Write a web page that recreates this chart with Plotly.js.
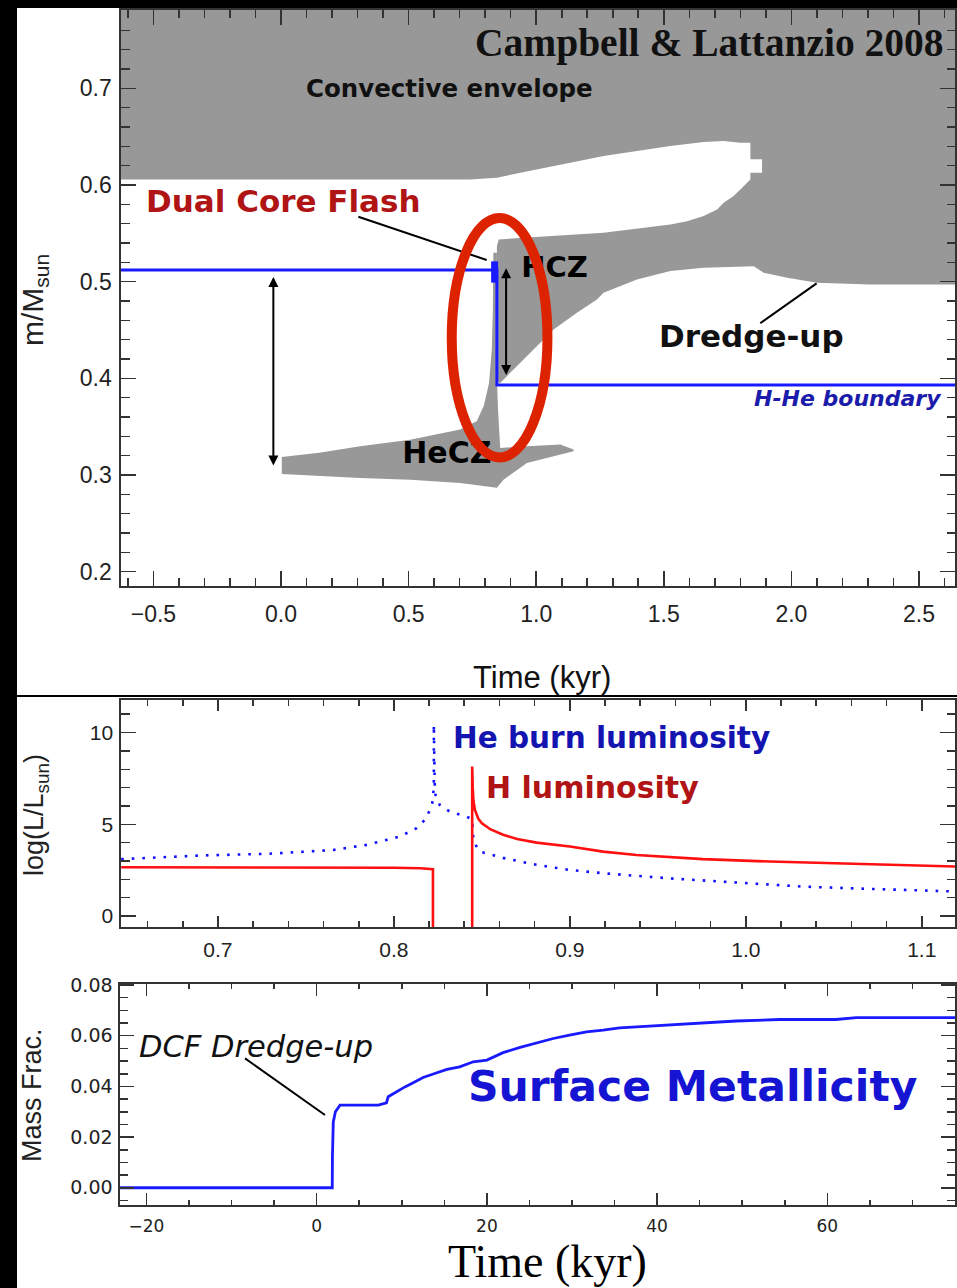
<!DOCTYPE html>
<html>
<head>
<meta charset="utf-8">
<script src="https://cdn.plot.ly/plotly-3.0.1.min.js"></script>
<style>
  html, body { margin: 0; padding: 0; background: #ffffff; }
  #fig { width: 957px; height: 1288px; }
</style>
</head>
<body>
<div id="fig"></div>
<script>
// ---------- Panel 1: convective zones during the dual core flash ----------
// Convective envelope merged with the hydrogen convective zone (HCZ);
// the radiative tongue between them is cut in as a notch.
const envTime = [-0.7, 2.7, 2.7, 2.3098, 2.1008, 1.9831, 1.8914, 1.8522, 1.6561, 1.5255, 1.3949,
  1.2639, 1.238, 1.1596, 1.068, 1.0027, 0.937, 0.8718, 0.8588, 0.8459, 0.8459, 0.853,
  1.0027, 1.2639, 1.5255, 1.591, 1.6561, 1.7086, 1.7345, 1.7737, 1.8, 1.8392, 1.8392,
  1.885, 1.885, 1.8392, 1.8392, 1.8, 1.7345, 1.6561, 1.5255, 1.3949, 1.2639, 1.1333,
  1.0027, 0.8459, 0.7412, -0.7];
const envMass = [0.80, 0.80, 0.4971, 0.4971, 0.4989, 0.504, 0.5092, 0.516, 0.5144, 0.5109, 0.5023,
  0.4885, 0.4816, 0.4678, 0.4505, 0.4332, 0.4161, 0.3988, 0.3953, 0.397, 0.537, 0.5437,
  0.5465, 0.5506, 0.5592, 0.5626, 0.5678, 0.5747, 0.5817, 0.5885, 0.5954, 0.6058, 0.6127,
  0.6127, 0.6265, 0.6265, 0.6438, 0.6438, 0.6454, 0.6444, 0.6403, 0.6351, 0.6299, 0.6231,
  0.6161, 0.6076, 0.6058, 0.6058];

// Helium convective zone (HeCZ) with its thin neck reaching up to the HCZ
const heczTime = [0.003, 0.003, 0.15, 0.31, 0.506, 0.702, 0.767, 0.795, 0.815, 0.826, 0.83, 0.832,
  0.846, 0.846, 0.85, 0.856, 0.8588, 0.9635, 1.0941, 1.1463, 1.1463, 0.9635, 0.8718, 0.8459,
  0.8066, 0.702, 0.5059, 0.3098, 0.003];
const heczMass = [0.3011, 0.3187, 0.323, 0.3297, 0.3366, 0.347, 0.3556, 0.372, 0.395, 0.43, 0.47, 0.53,
  0.53, 0.40, 0.37, 0.345, 0.328, 0.3297, 0.3315, 0.3263, 0.3245, 0.3125, 0.2952, 0.2867,
  0.2883, 0.2918, 0.2952, 0.297, 0.3011];

// H-He boundary (mass coordinate of the H shell)
const hheTime = [-0.7, 0.826, 0.826, 0.846, 0.846, 2.7];
const hheMass = [0.5121, 0.5121, 0.5121, 0.5121, 0.3932, 0.3932];
const flashBlobTime = [0.837, 0.837];
const flashBlobMass = [0.521, 0.499];

// Mass extent arrows: before the flash (HeCZ to H shell) and the dredged region
const spanTime = [-0.03, 0.882];
const spanTop = [0.5049, 0.5139];
const spanBottom = [0.3084, 0.4018];

// ---------- Panel 2: burning luminosities ----------
const hTime = [0.645, 0.70, 0.75, 0.80, 0.815, 0.8215, 0.8222, 0.8222, null,
  0.8445, 0.8445, 0.8448, 0.8452, 0.846, 0.848, 0.850, 0.855, 0.8621, 0.87, 0.8811, 0.9,
  0.9189, 0.9379, 0.9757, 1.0136, 1.0515, 1.0894, 1.125];
const hLum = [2.66, 2.66, 2.65, 2.63, 2.6, 2.57, 2.55, -2, null,
  -2, 8.15, 7.0, 6.3, 5.8, 5.3, 5.05, 4.72, 4.43, 4.2, 4.0, 3.79,
  3.51, 3.33, 3.1, 2.97, 2.88, 2.77, 2.68];

const heTime = [0.645, 0.69, 0.728, 0.7655, 0.7845, 0.8034, 0.8129, 0.8186, 0.8218, 0.8227, 0.8227,
  0.8233, 0.8261, 0.8318, 0.8413, 0.8445, 0.8452, 0.8489, 0.862, 0.881, 0.9, 0.919, 0.957,
  0.995, 1.033, 1.07, 1.125];
const heLum = [3.1, 3.3, 3.39, 3.6, 3.88, 4.33, 4.79, 5.34, 6.16, 7.0, 10.44,
  6.69, 6.05, 5.69, 5.42, 5.27, 4.06, 3.51, 3.17, 2.79, 2.51, 2.33, 2.05,
  1.82, 1.6, 1.48, 1.32];

// ---------- Panel 3: surface metallicity ----------
const zTime = [-23.5, 1.83, 1.85, 1.95, 2.2, 2.74, 7.24, 7.6, 8.2, 8.4, 9.39, 10.37, 11.34, 12.5,
  13.7, 15.3, 16.8, 18.4, 20.0, 21.9, 23.9, 25.8, 27.8, 29.7, 31.7, 33.65, 35.6, 37.6,
  41.5, 45.4, 49.3, 54.4, 61.0, 63.4, 75.5];
const zSurf = [0, 0, 0.012, 0.026, 0.030, 0.0326, 0.0326, 0.0329, 0.0335, 0.0359, 0.0379, 0.0398,
  0.0414, 0.0435, 0.0449, 0.0467, 0.0477, 0.0497, 0.0504, 0.0533, 0.0554, 0.0572, 0.0589,
  0.0602, 0.0615, 0.0622, 0.0631, 0.0635, 0.0642, 0.0651, 0.0658, 0.0664, 0.0664, 0.0671, 0.0671];

// ---------- figure geometry ----------
const W = 957, H = 1288;
const P = px => px / W;          // pixel column -> paper x
const Q = py => 1 - py / H;      // pixel row -> paper y

const GRAY = '#989898';
const AX = '#333333';
const SANS = 'Liberation Sans, Arial, sans-serif';
const DEJA = 'DejaVu Sans, Verdana, sans-serif';
const SERIF = 'Liberation Serif, Times New Roman, serif';

const traces = [
  { x: envTime, y: envMass, xaxis: 'x', yaxis: 'y', mode: 'lines', fill: 'toself',
    fillcolor: GRAY, line: { width: 0, color: GRAY }, hoverinfo: 'skip' },
  { x: heczTime, y: heczMass, xaxis: 'x', yaxis: 'y', mode: 'lines', fill: 'toself',
    fillcolor: GRAY, line: { width: 0, color: GRAY }, hoverinfo: 'skip' },
  { x: hheTime, y: hheMass, xaxis: 'x', yaxis: 'y', mode: 'lines',
    line: { color: '#1a1aff', width: 3 } },
  { x: flashBlobTime, y: flashBlobMass, xaxis: 'x', yaxis: 'y', mode: 'lines',
    line: { color: '#1a1aff', width: 7 } },
  { x: [1.072], y: [0.5122], xaxis: 'x', yaxis: 'y', mode: 'text', text: ['HCZ'],
    textposition: 'middle center', cliponaxis: false,
    textfont: { family: DEJA, size: 29, color: '#000000', weight: 'bold' } },
  { x: [0.65], y: [0.3198], xaxis: 'x', yaxis: 'y', mode: 'text', text: ['HeCZ'],
    textposition: 'middle center', cliponaxis: false,
    textfont: { family: DEJA, size: 30, color: '#000000', weight: 'bold' } },

  { x: heTime, y: heLum, xaxis: 'x2', yaxis: 'y2', mode: 'lines',
    line: { color: '#1010ff', width: 2.6, dash: '2.6px,8px' } },
  { x: hTime, y: hLum, xaxis: 'x2', yaxis: 'y2', mode: 'lines', connectgaps: false,
    line: { color: '#ff1010', width: 2.6 } },

  { x: zTime, y: zSurf, xaxis: 'x3', yaxis: 'y3', mode: 'lines',
    line: { color: '#1a1aff', width: 2.8 } }
];

function axisStyle(extra) {
  return Object.assign({
    showline: true, linecolor: AX, linewidth: 1.6, mirror: 'ticks',
    ticks: 'inside', tickcolor: AX, tickwidth: 1.6,
    showgrid: false, zeroline: false, fixedrange: true
  }, extra);
}

const layout = {
  width: W, height: H,
  margin: { l: 0, r: 0, t: 0, b: 0, pad: 0 },
  paper_bgcolor: '#ffffff', plot_bgcolor: '#ffffff',
  showlegend: false,

  xaxis: axisStyle({ domain: [P(121), P(955)], anchor: 'y', range: [-0.627, 2.641],
    tick0: 0, dtick: 0.5, tickformat: '.1f', ticklen: 15, ticklabelstandoff: 7,
    minor: { dtick: 0.1, tick0: 0, ticks: 'inside', ticklen: 8, tickcolor: AX, tickwidth: 1.6 },
    tickfont: { family: SANS, size: 23, color: '#222' } }),
  yaxis: axisStyle({ domain: [Q(586), Q(10)], anchor: 'x', range: [0.1852, 0.781],
    tick0: 0, dtick: 0.1, tickformat: '.1f', ticklen: 15, ticklabelstandoff: 3,
    minor: { dtick: 0.02, tick0: 0, ticks: 'inside', ticklen: 8.5, tickcolor: AX, tickwidth: 1.6 },
    tickfont: { family: SANS, size: 23, color: '#222' } }),

  xaxis2: axisStyle({ domain: [P(121), P(955)], anchor: 'y2', range: [0.6449, 1.1189],
    tick0: 0, dtick: 0.1, tickformat: '.1f', ticklen: 11, ticklabelstandoff: 3,
    minor: { dtick: 0.02, tick0: 0, ticks: 'inside', ticklen: 6, tickcolor: AX, tickwidth: 1.6 },
    tickfont: { family: SANS, size: 21, color: '#222' } }),
  yaxis2: axisStyle({ domain: [Q(927), Q(700)], anchor: 'x2', range: [-0.6, 11.78],
    tick0: 0, dtick: 5, ticklen: 15, ticklabelstandoff: 2,
    minor: { dtick: 1, tick0: 0, ticks: 'inside', ticklen: 8.5, tickcolor: AX, tickwidth: 1.6 },
    tickfont: { family: SANS, size: 21, color: '#222' } }),

  xaxis3: axisStyle({ domain: [P(120), P(955)], anchor: 'y3', range: [-23.11, 75.0],
    tick0: 0, dtick: 20, ticklen: 12, ticklabelstandoff: 5,
    minor: { dtick: 5, tick0: 0, ticks: 'inside', ticklen: 5, tickcolor: AX, tickwidth: 1.6 },
    tickfont: { family: DEJA, size: 17, color: '#222' } }),
  yaxis3: axisStyle({ domain: [Q(1205), Q(984)], anchor: 'x3', range: [-0.0068, 0.0804],
    tick0: 0, dtick: 0.02, tickformat: '.2f', ticklen: 14, ticklabelstandoff: 2,
    minor: { dtick: 0.005, tick0: 0, ticks: 'inside', ticklen: 8, tickcolor: AX, tickwidth: 1.6 },
    tickfont: { family: DEJA, size: 19, color: '#222' } }),

  shapes: [
    // frame strips and panel divider
    { type: 'rect', xref: 'paper', yref: 'paper', x0: 0, x1: P(17), y0: 0, y1: 1,
      fillcolor: '#000000', line: { width: 0 }, layer: 'above' },
    { type: 'rect', xref: 'paper', yref: 'paper', x0: 0, x1: 1, y0: Q(8), y1: 1,
      fillcolor: '#000000', line: { width: 0 }, layer: 'above' },
    { type: 'line', xref: 'paper', yref: 'paper', x0: P(17), x1: 1, y0: Q(696), y1: Q(696),
      line: { color: '#000000', width: 2 }, layer: 'above' },
    // label leader lines
    { type: 'line', xref: 'x', yref: 'y', x0: 0.303, y0: 0.5672, x1: 0.806, y1: 0.5224,
      line: { color: '#000000', width: 2 }, layer: 'above' },
    { type: 'line', xref: 'x', yref: 'y', x0: 1.878, y0: 0.457, x1: 2.0987, y1: 0.4983,
      line: { color: '#000000', width: 2 }, layer: 'above' },
    { type: 'line', xref: 'x3', yref: 'y3', x0: -8.42, y0: 0.05107, x1: 0.975, y1: 0.02869,
      line: { color: '#000000', width: 2 }, layer: 'above' },
    // highlight ring round the flash
    { type: 'circle', xref: 'x', yref: 'y', x0: 0.669, x1: 1.044, y0: 0.3182, y1: 0.5659,
      line: { color: '#dd2200', width: 10 }, fillcolor: 'rgba(0,0,0,0)', layer: 'above' }
  ],

  annotations: [
    { xref: 'paper', yref: 'paper', x: P(709), y: Q(42.5), text: '<b>Campbell &amp; Lattanzio 2008</b>',
      showarrow: false, xanchor: 'center', yanchor: 'middle',
      font: { family: SERIF, size: 39.5, color: '#111' } },
    { xref: 'paper', yref: 'paper', x: P(449.5), y: Q(88), text: '<b>Convective envelope</b>',
      showarrow: false, xanchor: 'center', yanchor: 'middle',
      font: { family: DEJA, size: 24.5, color: '#111' } },
    { xref: 'paper', yref: 'paper', x: P(283), y: Q(200.5), text: '<b>Dual Core Flash</b>',
      showarrow: false, xanchor: 'center', yanchor: 'middle',
      font: { family: DEJA, size: 31, color: '#b01414' } },
    { xref: 'paper', yref: 'paper', x: P(751.5), y: Q(336), text: '<b>Dredge-up</b>',
      showarrow: false, xanchor: 'center', yanchor: 'middle',
      font: { family: DEJA, size: 31, color: '#111' } },
    { xref: 'paper', yref: 'paper', x: P(848), y: Q(399), text: '<b><i>H-He boundary</i></b>',
      showarrow: false, xanchor: 'center', yanchor: 'middle',
      font: { family: DEJA, size: 22, color: '#1c1cab' } },
    { xref: 'paper', yref: 'paper', x: P(542), y: Q(677.5), text: 'Time (kyr)',
      showarrow: false, xanchor: 'center', yanchor: 'middle',
      font: { family: SANS, size: 31, color: '#111' } },
    { xref: 'paper', yref: 'paper', x: P(34), y: Q(300), text: 'm/M<sub>sun</sub>', textangle: -90,
      showarrow: false, xanchor: 'center', yanchor: 'middle',
      font: { family: SANS, size: 30, color: '#222' } },

    // double-headed mass arrows
    { xref: 'x', yref: 'y', axref: 'x', ayref: 'y', x: spanTime[0], y: spanTop[0],
      ax: spanTime[0], ay: spanBottom[0], text: '', showarrow: true, arrowside: 'end+start',
      arrowhead: 2, startarrowhead: 2, arrowsize: 1, startarrowsize: 1, arrowwidth: 2,
      arrowcolor: '#000000', standoff: 0, startstandoff: 0 },
    { xref: 'x', yref: 'y', axref: 'x', ayref: 'y', x: spanTime[1], y: spanTop[1],
      ax: spanTime[1], ay: spanBottom[1], text: '', showarrow: true, arrowside: 'end+start',
      arrowhead: 2, startarrowhead: 2, arrowsize: 1, startarrowsize: 1, arrowwidth: 2,
      arrowcolor: '#000000', standoff: 0, startstandoff: 0 },

    { xref: 'paper', yref: 'paper', x: P(611.5), y: Q(738), text: '<b>He burn luminosity</b>',
      showarrow: false, xanchor: 'center', yanchor: 'middle',
      font: { family: DEJA, size: 29.5, color: '#1414b0' } },
    { xref: 'paper', yref: 'paper', x: P(592.5), y: Q(787.5), text: '<b>H luminosity</b>',
      showarrow: false, xanchor: 'center', yanchor: 'middle',
      font: { family: DEJA, size: 30, color: '#b01414' } },
    { xref: 'paper', yref: 'paper', x: P(36), y: Q(815), text: 'log(L/L<sub>sun</sub>)', textangle: -90,
      showarrow: false, xanchor: 'center', yanchor: 'middle',
      font: { family: SANS, size: 27, color: '#222' } },

    { xref: 'paper', yref: 'paper', x: P(255.5), y: Q(1046), text: '<i>DCF Dredge-up</i>',
      showarrow: false, xanchor: 'center', yanchor: 'middle',
      font: { family: DEJA, size: 30.5, color: '#111' } },
    { xref: 'paper', yref: 'paper', x: P(692.5), y: Q(1086), text: '<b>Surface Metallicity</b>',
      showarrow: false, xanchor: 'center', yanchor: 'middle',
      font: { family: DEJA, size: 42.5, color: '#1414d2' } },
    { xref: 'paper', yref: 'paper', x: P(32), y: Q(1095), text: 'Mass Frac.', textangle: -90,
      showarrow: false, xanchor: 'center', yanchor: 'middle',
      font: { family: SANS, size: 27, color: '#222' } },
    { xref: 'paper', yref: 'paper', x: P(547.5), y: Q(1261.5), text: 'Time (kyr)',
      showarrow: false, xanchor: 'center', yanchor: 'middle',
      font: { family: SERIF, size: 46, color: '#000' } }
  ]
};

Plotly.newPlot('fig', traces, layout, { staticPlot: true, displayModeBar: false });
</script>
</body>
</html>
